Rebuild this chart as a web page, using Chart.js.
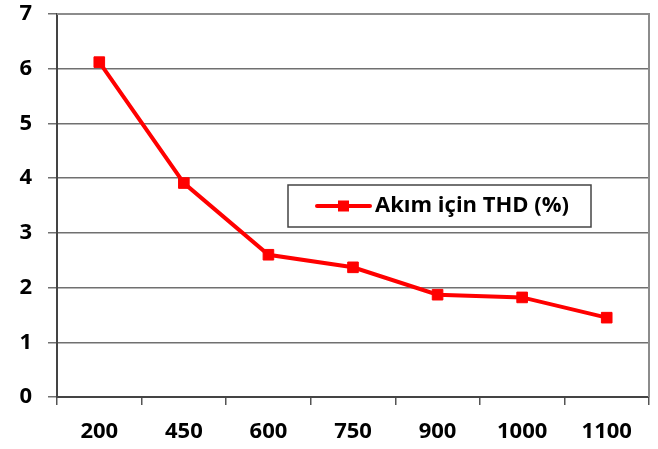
<!DOCTYPE html>
<html>
<head>
<meta charset="utf-8">
<script src="https://cdn.jsdelivr.net/npm/chart.js@4/dist/chart.umd.min.js"></script>
<style>
html,body{margin:0;padding:0;background:#fff;}
#wrap{width:658px;height:449px;position:relative;}
</style>
</head>
<body>
<div id="wrap"><canvas id="c" width="658" height="449"></canvas></div>
<script>
const categories = ['200','450','600','750','900','1000','1100'];
const thdValues = [6.12, 3.91, 2.60, 2.37, 1.87, 1.82, 1.45];
const seriesLabel = 'Akım için THD (%)';
const yTicks = [0,1,2,3,4,5,6,7];

const FONT = '"Open Sans", Lato, sans-serif';

const framePlugin = {
  id: 'frame',
  beforeDatasetsDraw(chart) {
    const {ctx, chartArea: a} = chart;
    ctx.save();
    ctx.strokeStyle = '#8c8c8c';
    ctx.lineWidth = 2;
    ctx.beginPath();
    ctx.moveTo(a.left, a.top);
    ctx.lineTo(a.right, a.top);
    ctx.lineTo(a.right, a.bottom);
    ctx.stroke();
    ctx.restore();
  },
  afterDraw(chart) {
    const {ctx} = chart;
    const ds = chart.data.datasets[0];
    const bx = 288, by = 185, bw = 303, bh = 42;
    ctx.save();
    ctx.fillStyle = '#fff';
    ctx.fillRect(bx, by, bw, bh);
    ctx.strokeStyle = '#444';
    ctx.lineWidth = 1.5;
    ctx.strokeRect(bx, by, bw, bh);
    const cy = by + bh / 2;
    ctx.strokeStyle = '#ff0000';
    ctx.lineWidth = 4;
    ctx.lineCap = 'round';
    ctx.beginPath();
    ctx.moveTo(317, cy);
    ctx.lineTo(370, cy);
    ctx.stroke();
    ctx.fillStyle = '#ff0000';
    ctx.fillRect(338, cy - 5.5, 11, 11);
    ctx.fillStyle = '#000';
    ctx.font = 'bold 22px ' + FONT;
    ctx.textBaseline = 'middle';
    ctx.textAlign = 'left';
    ctx.fillText(ds.label, 375, cy);
    ctx.restore();
  }
};

new Chart(document.getElementById('c'), {
  type: 'line',
  data: {
    labels: categories,
    datasets: [{
      label: seriesLabel,
      data: thdValues,
      borderColor: '#ff0000',
      backgroundColor: '#ff0000',
      borderWidth: 4,
      pointStyle: 'rect',
      pointRadius: 7.5,
      pointBorderWidth: 1,
      pointBorderColor: '#ff0000',
      pointBackgroundColor: '#ff0000',
      tension: 0
    }]
  },
  options: {
    responsive: false,
    animation: false,
    layout: {padding: {top: 14, right: 9, left: 0, bottom: 0}},
    plugins: {legend: {display: false}, tooltip: {enabled: false}},
    scales: {
      x: {
        offset: true,
        grid: {offset: true, drawOnChartArea: false, drawTicks: true, tickLength: 8, color: '#555', lineWidth: 1.5},
        border: {color: '#444', width: 2},
        ticks: {color: '#000', font: {family: FONT, size: 22, weight: 'bold'}, padding: 14},
        afterFit(s) { s.height = 52; s.paddingLeft = 0; s.paddingRight = 0; }
      },
      y: {
        min: 0, max: 7,
        afterBuildTicks(s) { s.ticks = yTicks.map(v => ({value: v})); },
        grid: {color: '#707070', lineWidth: 1.5, tickLength: 9},
        border: {color: '#444', width: 2},
        ticks: {color: '#000', font: {family: FONT, size: 22, weight: 'bold'}, padding: 16},
        afterFit(s) { s.width = 57; s.paddingTop = 0; s.paddingBottom = 0; }
      }
    }
  },
  plugins: [framePlugin]
});
</script>
</body>
</html>
